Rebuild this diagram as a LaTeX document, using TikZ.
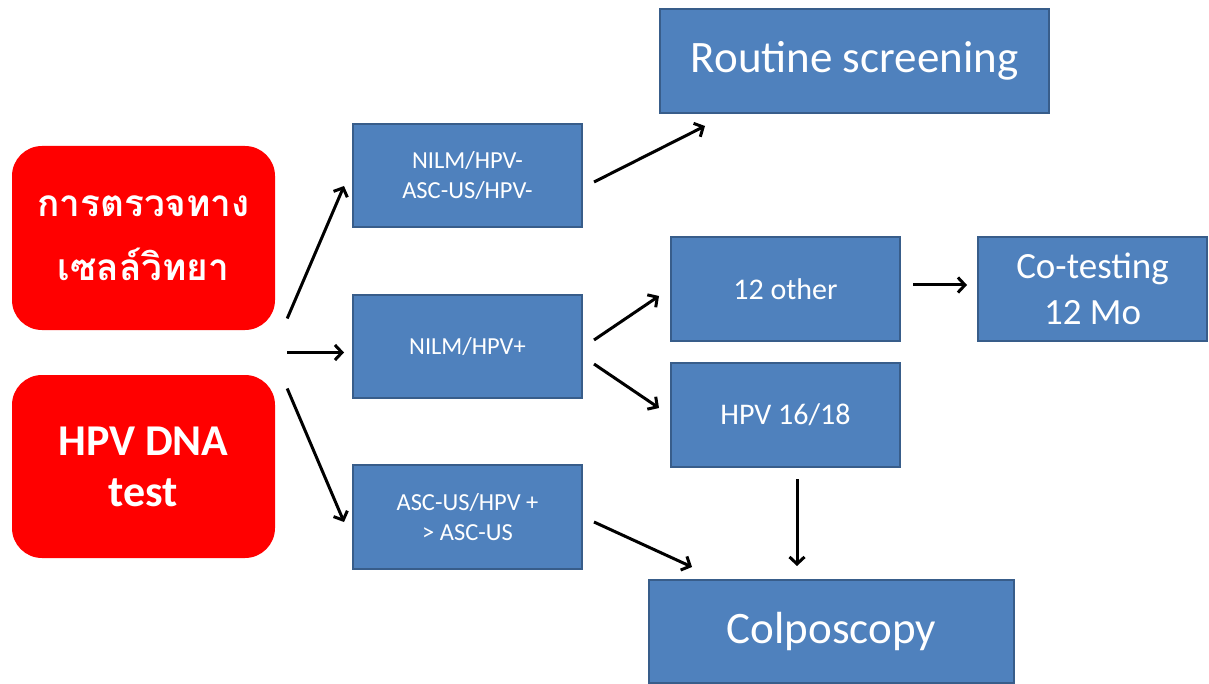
\documentclass[tikz,border=0pt]{standalone}
\usepackage{fontspec}
\setmainfont{Carlito}
\newfontfamily\thaifont[Script=Thai]{Loma}
\usetikzlibrary{arrows.meta,calc}
\definecolor{boxblue}{HTML}{4F81BD}
\definecolor{boxedge}{HTML}{385D8A}
\definecolor{testred}{HTML}{FF0000}
\tikzset{
  bluebox/.style={fill=boxblue,draw=boxedge,line width=2pt,text=white,align=center,inner sep=0pt},
  redbox/.style={fill=testred,rounded corners=30pt,text=white,align=center,inner sep=0pt,
    minimum width=263pt,minimum height=184pt},
  flow/.style={line width=3pt,-{Straight Barb[length=7pt,width=15pt,line width=3pt]}}
}
\begin{document}
\begin{tikzpicture}[x=1pt,y=-1pt]
\useasboundingbox (0,0) rectangle (1209,684);

\node[redbox,font=\thaifont\bfseries\fontsize{37}{64}\selectfont] (cyto) at (143.5,238) {การตรวจทาง\\เซลล์วิทยา};
\node[redbox,minimum height=183pt,font=\bfseries\fontsize{44}{51}\selectfont] (hpv) at (143.5,466.5) {HPV DNA\\test};

\node[bluebox,minimum width=229pt,minimum height=103pt,font=\fontsize{24.5}{30}\selectfont] (neg) at (467.5,175.5) {NILM/HPV-\\ASC-US/HPV-};
\node[bluebox,minimum width=229pt,minimum height=103pt,font=\fontsize{24.5}{30}\selectfont] (pos) at (467.5,346.5) {NILM/HPV+};
\node[bluebox,minimum width=229pt,minimum height=104pt,font=\fontsize{24.5}{30}\selectfont] (asc) at (467.5,517) {ASC-US/HPV +\\> ASC-US};

\node[bluebox,minimum width=389pt,minimum height=104pt,font=\fontsize{45}{50}\selectfont] (routine) at (854.5,61) {Routine screening};
\node[bluebox,minimum width=229pt,minimum height=104pt,font=\fontsize{30}{36}\selectfont] (other) at (785.5,289) {12 other};
\node[bluebox,minimum width=229pt,minimum height=104pt,font=\fontsize{37}{46}\selectfont] (cotest) at (1092.5,289) {Co-testing\\12 Mo};
\node[bluebox,minimum width=229pt,minimum height=104pt,font=\fontsize{30}{36}\selectfont] (typed) at (785.5,415) {HPV 16/18};
\node[bluebox,minimum width=365pt,minimum height=103pt,font=\fontsize{45}{50}\selectfont] (colpo) at (831.5,631.5) {Colposcopy};

\coordinate (fork) at ($(cyto.south east)!0.5!(hpv.north east)+(12,0)$);

\draw[flow] ($(fork)+(0,-34)$) -- ($(neg.west)+(-8,10.5)$);
\draw[flow] (fork) -- ($(fork -| pos.west)+(-8,0)$);
\draw[flow] ($(fork)+(0,36)$) -- ($(asc.west)+(-8,5)$);

\draw[flow] ($(neg.east)+(11,6.5)$) -- ($(routine.south west)+(46,12)$);
\draw[flow] ($(pos.east)+(11,-6.5)$) -- ($(other.west)+(-11,7)$);
\draw[flow] ($(pos.east)+(11,17.5)$) -- ($(typed.west)+(-11,-7)$);
\draw[flow] ($(asc.east)+(11,5)$) -- ($(colpo.north west)+(44,-12)$);

\draw[flow] ($(other.east)+(12,-4)$) -- ($(cotest.west)+(-10,-4)$);
\draw[flow] ($(typed.south)+(11.5,11)$) -- ($(typed.south |- colpo.north)+(11.5,-13)$);
\end{tikzpicture}
\end{document}
